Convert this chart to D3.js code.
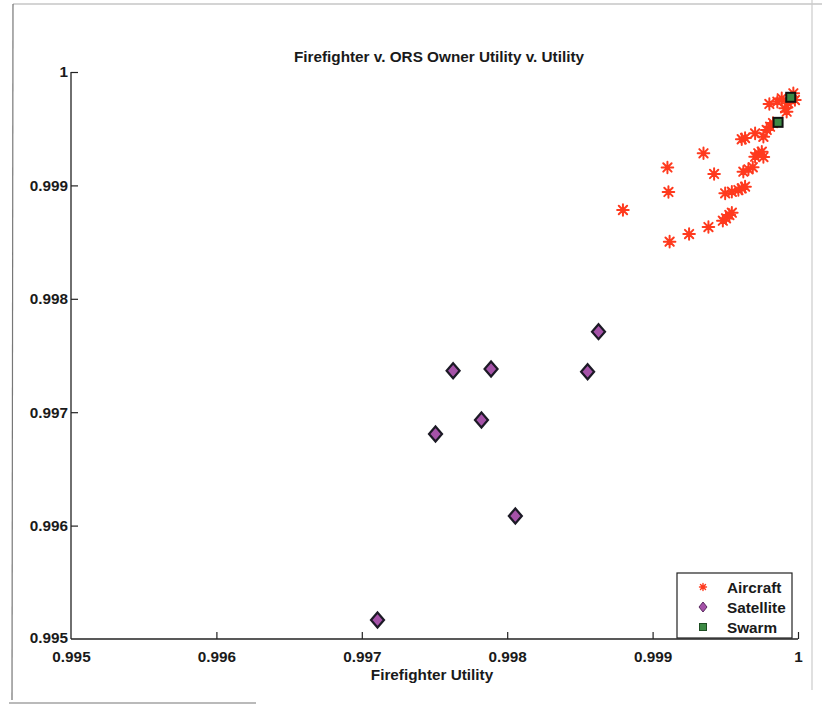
<!DOCTYPE html>
<html><head><meta charset="utf-8">
<script src="https://cdn.jsdelivr.net/npm/d3@7"></script>
<style>
html,body{margin:0;padding:0;background:#fff;}
svg{display:block;font-family:"Liberation Sans",Arial,Helvetica,sans-serif;}
</style></head>
<body><svg id="c" width="822" height="706"></svg>
<script>
const title = "Firefighter v. ORS Owner Utility v. Utility";
const xLabel = "Firefighter Utility";
const xTicks = [0.995, 0.996, 0.997, 0.998, 0.999, 1];
const yTicks = [0.995, 0.996, 0.997, 0.998, 0.999, 1];
const seriesNames = ["Aircraft", "Satellite", "Swarm"];

const aircraftX = [0.998796,0.999102,0.999109,0.999117,0.999251,0.999384,0.999350,0.999423,
  0.999483,0.999505,0.999528,0.999545,0.999499,0.999545,0.999590,0.999613,0.999636,
  0.999624,0.999659,0.999689,0.999705,0.999727,0.999751,0.999762,0.999613,0.999636,
  0.999705,0.999762,0.999785,0.999808,0.999803,0.999858,0.999888,0.999911,0.999933,
  0.999968,0.999979,0.999922,0.999828];
const aircraftY = [0.998783,0.999158,0.998942,0.998504,0.998571,0.998633,0.999283,0.999101,
  0.998689,0.998710,0.998739,0.998759,0.998930,0.998944,0.998959,0.998974,0.998989,
  0.999121,0.999142,0.999160,0.999253,0.999283,0.999297,0.999250,0.999407,0.999418,
  0.999459,0.999429,0.999489,0.999518,0.999718,0.999738,0.999768,0.999680,0.999724,
  0.999812,0.999753,0.999650,0.999550];

const satelliteX = [0.998628,0.997628,0.997889,0.998553,0.997823,0.997507,0.998056,0.997108];
const satelliteY = [0.997710,0.997366,0.997381,0.997357,0.996931,0.996808,0.996085,0.995168];

const swarmX = [0.999950,0.999863];
const swarmY = [0.999777,0.999556];

const svg = d3.select("#c");
const L = 71, R = 798, T = 72, B = 639;
const x = d3.scaleLinear().domain([0.995, 1]).range([L, R]);
const y = d3.scaleLinear().domain([0.995, 1]).range([B, T]);

// page border (scan frame)
const frame = svg.append("g").attr("stroke", "#777").attr("fill", "none").attr("stroke-width", 1.2);
frame.append("line").attr("x1", 13).attr("y1", 4).attr("x2", 822).attr("y2", 4).attr("stroke","#aaa");
frame.append("line").attr("x1", 13).attr("y1", 4).attr("x2", 12).attr("y2", 700);
frame.append("line").attr("x1", 9).attr("y1", 703).attr("x2", 256).attr("y2", 703);
frame.append("line").attr("x1", 812).attr("y1", 0).attr("x2", 812).attr("y2", 690).attr("stroke","#ccc");

const fontBold = {"font-weight": "bold", "font-size": "15.3px", "fill": "#1a1a1a"};
function applyFont(sel){ for (const k in fontBold) sel.style(k, fontBold[k]); return sel; }

// axes
const xAxis = d3.axisBottom(x).tickValues(xTicks).tickSize(-7).tickPadding(9)
  .tickFormat(d => d === 1 ? "1" : d3.format(".3f")(d));
const gx = svg.append("g").attr("transform", `translate(0,${B})`).call(xAxis);
gx.select(".domain").attr("stroke", "#222").attr("stroke-width", 1.3).attr("d", `M${L},0H${R}`);
gx.selectAll(".tick line").attr("stroke", "#222").attr("stroke-width", 1.2);
applyFont(gx.selectAll(".tick text")).attr("dy", "0.9em");
gx.selectAll(".tick").filter(d => d === 0.995).select("line").remove();

const yAxis = d3.axisLeft(y).tickValues(yTicks).tickSize(-7).tickPadding(3)
  .tickFormat(d => d === 1 ? "1" : d3.format(".3f")(d));
const gy = svg.append("g").attr("transform", `translate(${L},0)`).call(yAxis);
gy.select(".domain").attr("stroke", "#222").attr("stroke-width", 1.3).attr("d", `M0,${B}V${T}`);
gy.selectAll(".tick line").attr("stroke", "#222").attr("stroke-width", 1.2);
applyFont(gy.selectAll(".tick text"));
gy.selectAll(".tick").filter(d => d === 0.995).select("line").remove();
gy.selectAll(".tick").filter(d => d === 0.995).select("text").attr("dy", "0.2em");

// title & label
applyFont(svg.append("text").attr("x", 439).attr("y", 62).attr("text-anchor", "middle").text(title));
applyFont(svg.append("text").attr("x", 432).attr("y", 680).attr("text-anchor", "middle").text(xLabel));

// markers
const red = "#ff3a1e";
function asterisk(g, cx, cy, r, w){
  const d = `M${cx-r},${cy}H${cx+r}M${cx},${cy-r}V${cy+r}` +
    `M${cx-r*0.72},${cy-r*0.72}L${cx+r*0.72},${cy+r*0.72}M${cx-r*0.72},${cy+r*0.72}L${cx+r*0.72},${cy-r*0.72}`;
  g.append("path").attr("d", d).attr("stroke", red).attr("stroke-width", w).attr("fill", "none").attr("stroke-linecap","round");
}
const ga = svg.append("g");
aircraftX.forEach((v, i) => asterisk(ga, x(v), y(aircraftY[i]), 5.8, 2));

const gs = svg.append("g");
satelliteX.forEach((v, i) => {
  const cx = x(v), cy = y(satelliteY[i]);
  gs.append("path").attr("d", `M${cx},${cy-7.5}L${cx+6.5},${cy}L${cx},${cy+7.5}L${cx-6.5},${cy}Z`)
    .attr("fill", "#a552a8").attr("stroke", "#1c1a26").attr("stroke-width", 2.2);
});

const gw = svg.append("g");
swarmX.forEach((v, i) => {
  const cx = x(v), cy = y(swarmY[i]);
  gw.append("rect").attr("x", cx-4.5).attr("y", cy-4.5).attr("width", 9).attr("height", 9)
    .attr("fill", "#3d8a45").attr("stroke", "#111").attr("stroke-width", 2);
});

// legend
const lg = svg.append("g");
lg.append("rect").attr("x", 677).attr("y", 573).attr("width", 115).attr("height", 65)
  .attr("fill", "#fff").attr("stroke", "#222").attr("stroke-width", 1.2);
const ly = [587, 607, 627];
asterisk(lg, 703, ly[0], 3.5, 1.4);
lg.append("path").attr("d", `M703,${ly[1]-5}L707,${ly[1]}L703,${ly[1]+5}L699,${ly[1]}Z`)
  .attr("fill", "#a552a8").attr("stroke", "#5a2a60").attr("stroke-width", 1);
lg.append("rect").attr("x", 699.5).attr("y", ly[2]-3.5).attr("width", 7).attr("height", 7)
  .attr("fill", "#3d8a45").attr("stroke", "#1d4d22").attr("stroke-width", 1);
seriesNames.forEach((n, i) => {
  applyFont(lg.append("text").attr("x", 727).attr("y", ly[i]).attr("dy", "0.36em").text(n));
});
</script></body></html>
